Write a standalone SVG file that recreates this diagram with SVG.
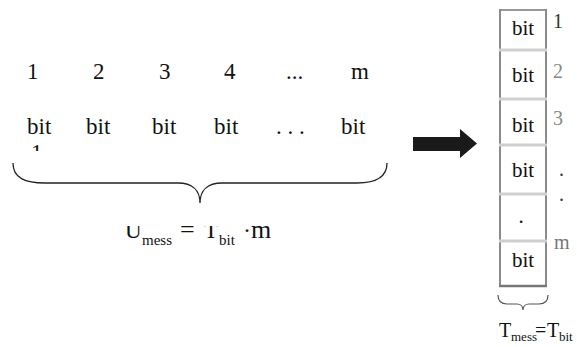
<svg xmlns="http://www.w3.org/2000/svg" width="577" height="347" viewBox="0 0 577 347">
<style>
text{font-family:"Liberation Serif","DejaVu Serif",serif;fill:#111}
.row{font-size:23px}
.cell{font-size:21px;text-anchor:middle}
.lab{font-size:20px;fill:#666}
.side{stroke:#8a8a8a;stroke-width:2;fill:none}
.sep{stroke:#cfcfcf;stroke-width:3}
.brace{fill:none;stroke:#222;stroke-width:1.3}
</style>
<defs>
<clipPath id="clipBit1"><rect x="0" y="0" width="100" height="151"/></clipPath>
<clipPath id="clipFormula"><rect x="100" y="226" width="200" height="40"/></clipPath>
</defs>
<rect width="577" height="347" fill="#fff"/>

<g id="indices">
<text class="row" x="27" y="79">1</text>
<text class="row" x="93" y="79">2</text>
<text class="row" x="159" y="79">3</text>
<text class="row" x="224" y="79">4</text>
<text class="row" x="286" y="79">...</text>
<text class="row" x="351" y="79">m</text>
</g>

<g id="serial-bits">
<text class="row" x="27" y="134">bit</text>
<text class="row" x="31" y="160" clip-path="url(#clipBit1)">1</text>
<text class="row" x="86" y="134">bit</text>
<text class="row" x="152" y="134">bit</text>
<text class="row" x="214" y="134">bit</text>
<text class="row" x="276" y="134">. . .</text>
<text class="row" x="341" y="134">bit</text>
</g>

<g id="serial-brace">
<path class="brace" d="M13,163 C13,178 25,183 45,183 L178,183 C192,183 200,190 200,203 C200,190 208,183 222,183 L357,183 C375,183 387,178 387,163"/>
</g>

<g id="formula">
<g clip-path="url(#clipFormula)">
<text x="125" y="238" style="font-size:23px">U</text>
<text x="204" y="238" style="font-size:23px">T</text>
</g>
<text x="142" y="245" style="font-size:15px">mess</text>
<text x="180" y="238" style="font-size:26px">=</text>
<text x="219" y="245" style="font-size:15px">bit</text>
<text x="243" y="238" style="font-size:24px">·</text>
<text x="251" y="238" style="font-size:26px">m</text>
</g>

<g id="connectors">
<polygon points="413,137 460,137 460,129 477,143.5 460,158 460,151 413,151" fill="#1a1a1a"/>
</g>

<g id="parallel-column">
<line x1="500" y1="10" x2="546" y2="10" stroke="#999" stroke-width="2"/>
<line class="side" x1="500" y1="9" x2="500" y2="287"/>
<line class="side" x1="546" y1="9" x2="546" y2="287"/>
<line x1="499" y1="286" x2="547" y2="286" stroke="#777" stroke-width="2.5"/>
<line class="sep" x1="499" y1="50" x2="547" y2="50"/>
<line class="sep" x1="499" y1="99" x2="547" y2="99"/>
<line class="sep" x1="499" y1="145" x2="547" y2="145"/>
<line class="sep" x1="499" y1="194" x2="547" y2="194"/>
<line class="sep" x1="499" y1="241" x2="547" y2="241"/>
</g>
<g id="cell-1"><text class="cell" x="523" y="35">bit</text></g>
<g id="cell-2"><text class="cell" x="523" y="82">bit</text></g>
<g id="cell-3"><text class="cell" x="523" y="132">bit</text></g>
<g id="cell-4"><text class="cell" x="523" y="177">bit</text></g>
<g id="cell-5"><text class="cell" x="521" y="223">.</text></g>
<g id="cell-6"><text class="cell" x="523" y="267">bit</text></g>

<g id="parallel-labels">
<text class="lab" x="553" y="28" style="fill:#333">1</text>
<text class="lab" x="553" y="78" style="fill:#888">2</text>
<text class="lab" x="553" y="125" style="fill:#888">3</text>
<text class="lab" x="559" y="176" style="fill:#333">.</text>
<text class="lab" x="559" y="201" style="fill:#333">.</text>
<text class="lab" x="554" y="249" style="fill:#777">m</text>
</g>

<g id="parallel-brace">
<path d="M498,295 C498,301 501,304 507,304 L517,304 C520,304 523,306 523,310 C523,306 526,304 529,304 L539,304 C545,304 548,301 548,295" fill="none" stroke="#555" stroke-width="1.2"/>
</g>

<g id="parallel-formula">
<text x="499" y="337" style="font-size:20px">T</text>
<text x="511" y="341" style="font-size:13px">mess</text>
<text x="535" y="337" style="font-size:20px">=</text>
<text x="547" y="337" style="font-size:20px">T</text>
<text x="559" y="341" style="font-size:13px">bit</text>
</g>
</svg>
